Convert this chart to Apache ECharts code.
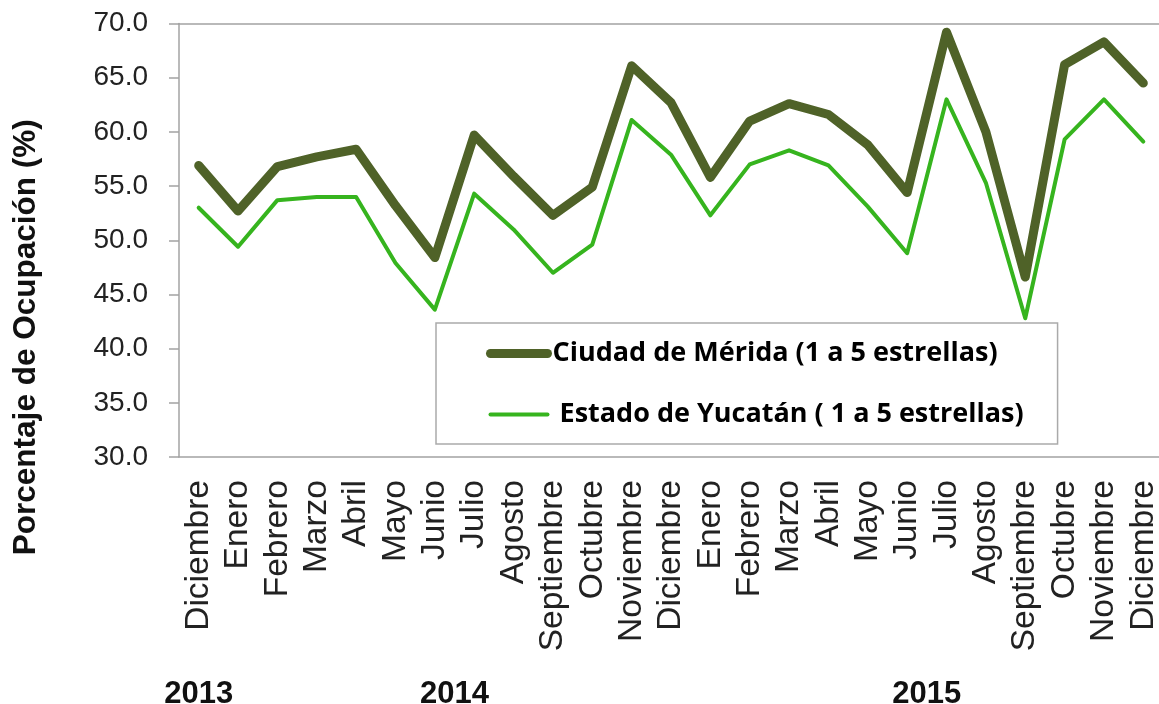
<!DOCTYPE html>
<html>
<head>
<meta charset="utf-8">
<script src="https://cdn.jsdelivr.net/npm/echarts@6/dist/echarts.min.js"></script>
<style>
  html, body { margin: 0; padding: 0; background: #fff; }
  #chart { width: 1159px; height: 704px; }
</style>
</head>
<body>
<div id="chart"></div>
<script>
// months, Dec 2013 .. Dec 2015
const months = ['Diciembre', 'Enero', 'Febrero', 'Marzo', 'Abril', 'Mayo', 'Junio', 'Julio',
  'Agosto', 'Septiembre', 'Octubre', 'Noviembre', 'Diciembre',
  'Enero', 'Febrero', 'Marzo', 'Abril', 'Mayo', 'Junio', 'Julio',
  'Agosto', 'Septiembre', 'Octubre', 'Noviembre', 'Diciembre'];
const merida = [56.9, 52.7, 56.8, 57.7, 58.4, 53.2, 48.4, 59.7, 55.9, 52.3, 54.9, 66.1, 62.7,
  55.8, 61.0, 62.6, 61.6, 58.8, 54.4, 69.2, 60.0, 46.6, 66.2, 68.3, 64.5];
const yucatan = [53.0, 49.4, 53.7, 54.0, 54.0, 47.9, 43.6, 54.3, 51.0, 47.0, 49.6, 61.1, 57.9,
  52.3, 57.0, 58.3, 56.9, 53.1, 48.8, 63.0, 55.3, 42.8, 59.3, 63.0, 59.1];
const years = ['2013', '2014', '2015'];
const yearAt = [0, 6.5, 18.5];   // category position of each year label

const nameMerida = 'Ciudad de Mérida (1 a 5 estrellas)';
const nameYucatan = ' Estado de Yucatán ( 1 a 5 estrellas)';

const dark = '#4f6228';
const light = '#36b41e';
const axisGray = '#a3a3a3';
const chart = echarts.init(document.getElementById('chart'));

chart.setOption({
  animation: false,
  grid: { left: 179, right: -4, top: 23.5, bottom: 247, outerBoundsMode: 'none' },
  legend: {
    orient: 'vertical',
    left: 436,
    top: 323,
    padding: [17, 34, 16, 50],
    itemWidth: 57,
    itemHeight: 26,
    itemGap: 34,
    backgroundColor: '#fff',
    borderColor: '#aaa',
    borderWidth: 1.5,
    itemStyle: { opacity: 0 },
    textStyle: { fontFamily: 'Open Sans', fontWeight: 'bold', fontSize: 27, color: '#000', lineHeight: 26 },
    data: [
      { name: nameMerida, lineStyle: { width: 9, cap: 'round' } },
      { name: nameYucatan, lineStyle: { width: 4, cap: 'round' } }
    ]
  },
  xAxis: [
    {
      type: 'category',
      data: months,
      boundaryGap: true,
      axisLine: { lineStyle: { color: axisGray, width: 1.5 } },
      axisTick: { show: false },
      axisLabel: {
        interval: 0, rotate: 90, margin: 23,
        fontFamily: 'Liberation Sans', fontSize: 33.5, color: '#222'
      }
    },
    {
      // year captions under the month labels
      type: 'value',
      min: -0.5,
      max: 24.5,
      position: 'bottom',
      offset: 222,
      axisLine: { show: false, onZero: false },
      axisTick: { show: false },
      splitLine: { show: false },
      axisLabel: {
        customValues: yearAt,
        margin: 0,
        formatter: v => years[yearAt.indexOf(v)] || '',
        fontFamily: 'Liberation Sans', fontWeight: 'bold', fontSize: 31, color: '#111'
      }
    },
    {
      // top border line of the plot
      type: 'category',
      data: months,
      position: 'top',
      axisLine: { lineStyle: { color: axisGray, width: 1.5 } },
      axisTick: { show: false },
      axisLabel: { show: false }
    }
  ],
  yAxis: {
    type: 'value',
    min: 30,
    max: 70,
    interval: 5,
    name: 'Porcentaje de Ocupación (%)',
    nameLocation: 'middle',
    nameGap: 137,
    nameTextStyle: {
      fontFamily: 'Liberation Sans', fontWeight: 'bold', fontSize: 31.5, color: '#111',
      padding: [0, 194, 0, 0]
    },
    axisLine: { show: true, onZero: false, lineStyle: { color: axisGray, width: 1.5 } },
    axisTick: { show: true, length: 10, lineStyle: { color: axisGray, width: 1.5 } },
    splitLine: { show: false },
    axisLabel: {
      margin: 31,
      formatter: v => v.toFixed(1),
      fontFamily: 'Liberation Sans', fontSize: 28, color: '#222'
    }
  },
  series: [
    {
      name: nameMerida,
      type: 'line',
      data: merida,
      symbol: 'none',
      color: dark,
      lineStyle: { width: 9, color: dark, cap: 'round', join: 'round' }
    },
    {
      name: nameYucatan,
      type: 'line',
      data: yucatan,
      symbol: 'none',
      color: light,
      lineStyle: { width: 4, color: light, cap: 'round', join: 'round' }
    }
  ]
});
</script>
</body>
</html>
